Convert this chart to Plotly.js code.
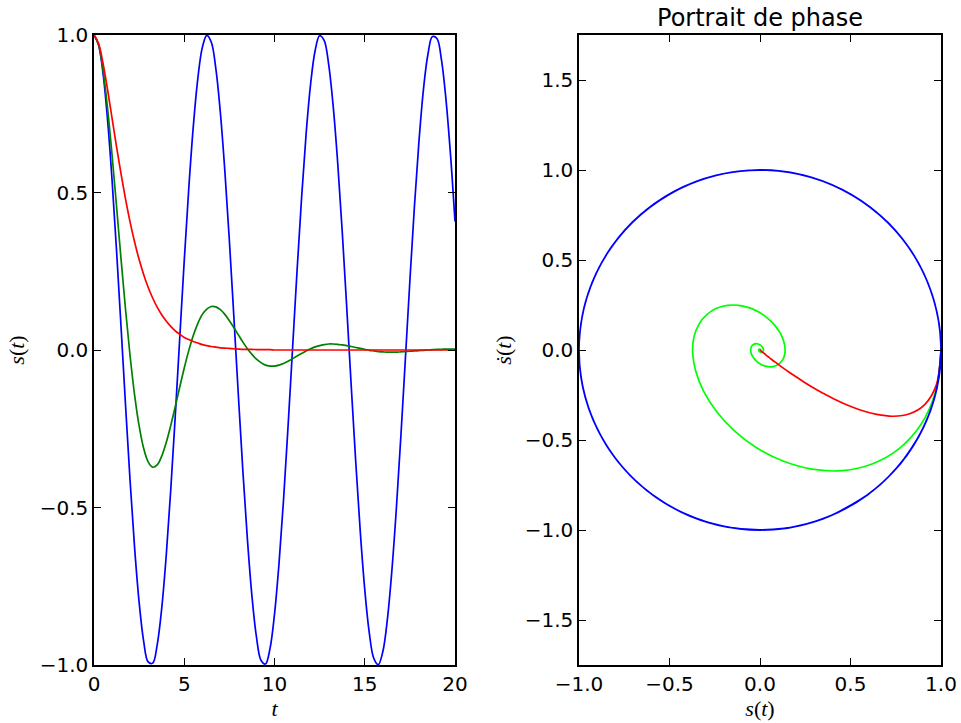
<!DOCTYPE html>
<html>
<head>
<meta charset="utf-8">
<script src="https://cdn.plot.ly/plotly-3.0.1.min.js"></script>
<style>html,body{margin:0;padding:0;background:#fff;}#chart{width:961px;height:723px;}</style>
</head>
<body>
<div id="chart"></div>
<script>
// time samples
const T = [0,0.25,0.5,0.75,1,1.25,1.5,1.75,2,2.25,2.5,2.75,3,3.25,3.5,3.75,4,4.25,4.5,4.75,5,5.25,5.5,5.75,6,6.25,6.5,6.75,7,7.25,7.5,7.75,8,8.25,8.5,8.75,9,9.25,9.5,9.75,10,10.25,10.5,10.75,11,11.25,11.5,11.75,12,12.25,12.5,12.75,13,13.25,13.5,13.75,14,14.25,14.5,14.75,15,15.25,15.5,15.75,16,16.25,16.5,16.75,17,17.25,17.5,17.75,18,18.25,18.5,18.75,19,19.25,19.5,19.75,20];

// undamped (blue): position and velocity
const sBlue = [1.000,0.969,0.878,0.732,0.540,0.315,0.071,-0.178,-0.416,-0.628,-0.801,-0.924,-0.990,-0.994,-0.936,-0.821,-0.654,-0.446,-0.211,0.038,0.284,0.512,0.709,0.861,0.960,0.999,0.977,0.893,0.754,0.568,0.347,0.104,-0.146,-0.386,-0.602,-0.781,-0.911,-0.985,-0.997,-0.948,-0.839,-0.678,-0.476,-0.243,0.004,0.252,0.483,0.685,0.844,0.950,0.998,0.983,0.907,0.775,0.595,0.378,0.137,-0.113,-0.355,-0.575,-0.760,-0.897,-0.979,-0.999,-0.958,-0.857,-0.702,-0.504,-0.275,-0.029,0.220,0.454,0.660,0.826,0.939,0.995,0.989,0.921,0.795,0.621,0.408];
const vBlue = [0,-0.247,-0.479,-0.682,-0.841,-0.949,-0.997,-0.984,-0.909,-0.778,-0.598,-0.382,-0.141,0.108,0.351,0.572,0.757,0.895,0.978,0.999,0.959,0.859,0.706,0.508,0.279,0.033,-0.215,-0.450,-0.657,-0.823,-0.938,-0.995,-0.989,-0.923,-0.798,-0.625,-0.412,-0.174,0.075,0.320,0.544,0.735,0.880,0.970,1.000,0.968,0.875,0.729,0.537,0.311,0.066,-0.183,-0.420,-0.632,-0.804,-0.926,-0.991,-0.994,-0.935,-0.818,-0.650,-0.442,-0.207,0.042,0.288,0.516,0.712,0.863,0.961,1.000,0.976,0.891,0.751,0.564,0.342,0.099,-0.150,-0.390,-0.605,-0.784,-0.913];

// underdamped (green)
const sGreen = [1.000,0.970,0.889,0.767,0.619,0.455,0.287,0.127,-0.019,-0.143,-0.241,-0.312,-0.355,-0.372,-0.365,-0.337,-0.294,-0.240,-0.180,-0.118,-0.057,-0.002,0.046,0.084,0.113,0.130,0.138,0.137,0.128,0.113,0.093,0.071,0.048,0.025,0.004,-0.014,-0.029,-0.040,-0.048,-0.051,-0.051,-0.048,-0.043,-0.036,-0.028,-0.019,-0.011,-0.003,0.004,0.010,0.014,0.017,0.019,0.019,0.018,0.016,0.014,0.011,0.008,0.005,0.002,-0.001,-0.003,-0.005,-0.006,-0.007,-0.007,-0.007,-0.006,-0.005,-0.004,-0.003,-0.002,-0.001,0.000,0.001,0.002,0.002,0.003,0.003,0.003];
const vGreen = [0,-0.230,-0.414,-0.549,-0.633,-0.670,-0.662,-0.617,-0.543,-0.448,-0.340,-0.228,-0.118,-0.016,0.072,0.144,0.197,0.232,0.248,0.248,0.234,0.208,0.173,0.134,0.092,0.051,0.012,-0.021,-0.049,-0.070,-0.085,-0.092,-0.093,-0.088,-0.079,-0.067,-0.052,-0.037,-0.021,-0.007,0.006,0.017,0.025,0.031,0.034,0.035,0.033,0.030,0.026,0.020,0.015,0.009,0.003,-0.001,-0.006,-0.009,-0.011,-0.012,-0.013,-0.013,-0.011,-0.010,-0.008,-0.006,-0.004,-0.002,0.000,0.002,0.003,0.004,0.005,0.005,0.005,0.004,0.004,0.003,0.002,0.002,0.001,0.000,-0.001];

// critically damped (red)
const sRed = [1.000,0.974,0.910,0.827,0.736,0.645,0.558,0.478,0.406,0.343,0.287,0.240,0.199,0.165,0.136,0.112,0.092,0.075,0.061,0.050,0.040,0.033,0.027,0.022,0.017,0.014,0.011,0.009,0.007,0.006,0.005,0.004,0.003,0.002,0.002,0.002,0.001,0.001,0.001,0.001,0,0,0,0,0,0,0,0,0,0,0,0,0,0,0,0,0,0,0,0,0,0,0,0,0,0,0,0,0,0,0,0,0,0,0,0,0,0,0,0,0];
const vRed = [0,-0.195,-0.303,-0.354,-0.368,-0.358,-0.335,-0.304,-0.271,-0.237,-0.205,-0.176,-0.149,-0.126,-0.106,-0.088,-0.073,-0.061,-0.050,-0.041,-0.034,-0.028,-0.022,-0.018,-0.015,-0.012,-0.010,-0.008,-0.006,-0.005,-0.004,-0.003,-0.003,-0.002,-0.002,-0.001,-0.001,-0.001,-0.001,-0.001,0,0,0,0,0,0,0,0,0,0,0,0,0,0,0,0,0,0,0,0,0,0,0,0,0,0,0,0,0,0,0,0,0,0,0,0,0,0,0,0,0];

// tick labels
const tTicks = [0,5,10,15,20];
const tTickText = ['0','5','10','15','20'];
const sTicks = [-1,-0.5,0,0.5,1];
const sTickText = ['\u22121.0','\u22120.5','0.0','0.5','1.0'];
const vTicks = [-1.5,-1,-0.5,0,0.5,1,1.5];
const vTickText = ['\u22121.5','\u22121.0','\u22120.5','0.0','0.5','1.0','1.5'];

const LW = 1.7;
function line(x, y, color, xa, ya) {
  return {x: x, y: y, xaxis: xa, yaxis: ya, mode: 'lines', type: 'scatter',
          line: {color: color, width: LW, shape: 'spline', smoothing: 1}, hoverinfo: 'skip'};
}

const data = [
  line(T, sBlue, '#0000ff', 'x', 'y'),
  line(T, sGreen, '#008000', 'x', 'y'),
  line(T, sRed, '#ff0000', 'x', 'y'),
  line(sGreen, vGreen, '#00ff00', 'x2', 'y2'),
  line(sRed, vRed, '#ff0000', 'x2', 'y2'),
  line(sBlue, vBlue, '#0000ff', 'x2', 'y2')
];

const W = 961, H = 723;
const yDom = [1 - 665 / H, 1 - 35 / H];
function axis(extra) {
  return Object.assign({
    ticks: 'inside', ticklen: 7, tickwidth: 1, tickcolor: '#000',
    showline: true, linecolor: '#000', linewidth: 1.7, mirror: 'ticks',
    showgrid: false, zeroline: false, tickmode: 'array',
    tickfont: {family: 'DejaVu Sans', size: 20, color: '#000'}
  }, extra);
}
const labFont = {family: 'Liberation Serif', size: 22, color: '#000'};

const layout = {
  width: W, height: H,
  margin: {l: 0, r: 0, t: 0, b: 0},
  paper_bgcolor: '#fff', plot_bgcolor: '#fff',
  showlegend: false,
  font: {family: 'DejaVu Sans', size: 20, color: '#000'},
  title: {text: 'Portrait de phase', x: 760 / W, xanchor: 'center', xref: 'paper',
          y: 1 - 18 / H, yanchor: 'middle', yref: 'container',
          font: {family: 'DejaVu Sans', size: 24, color: '#000'}},
  xaxis: axis({domain: [94 / W, 455 / W], anchor: 'y', range: [0, 20],
               tickvals: tTicks, ticktext: tTickText,
               title: {text: '<i>t</i>', font: labFont, standoff: 3}}),
  yaxis: axis({domain: yDom, anchor: 'x', range: [-1, 1],
               tickvals: sTicks, ticktext: sTickText,
               title: {text: '<i>s</i>(<i>t</i>)', font: labFont, standoff: 9}}),
  xaxis2: axis({domain: [579 / W, 941 / W], anchor: 'y2', range: [-1, 1],
                tickvals: sTicks, ticktext: sTickText,
                title: {text: '<i>s</i>(<i>t</i>)', font: labFont, standoff: 3}}),
  yaxis2: axis({domain: yDom, anchor: 'x2', range: [-1.75, 1.75],
                tickvals: vTicks, ticktext: vTickText,
                title: {text: '<i>\u1E61</i>(<i>t</i>)', font: labFont, standoff: 7}})
};

Plotly.newPlot('chart', data, layout, {staticPlot: true, displayModeBar: false});
</script>
</body>
</html>
